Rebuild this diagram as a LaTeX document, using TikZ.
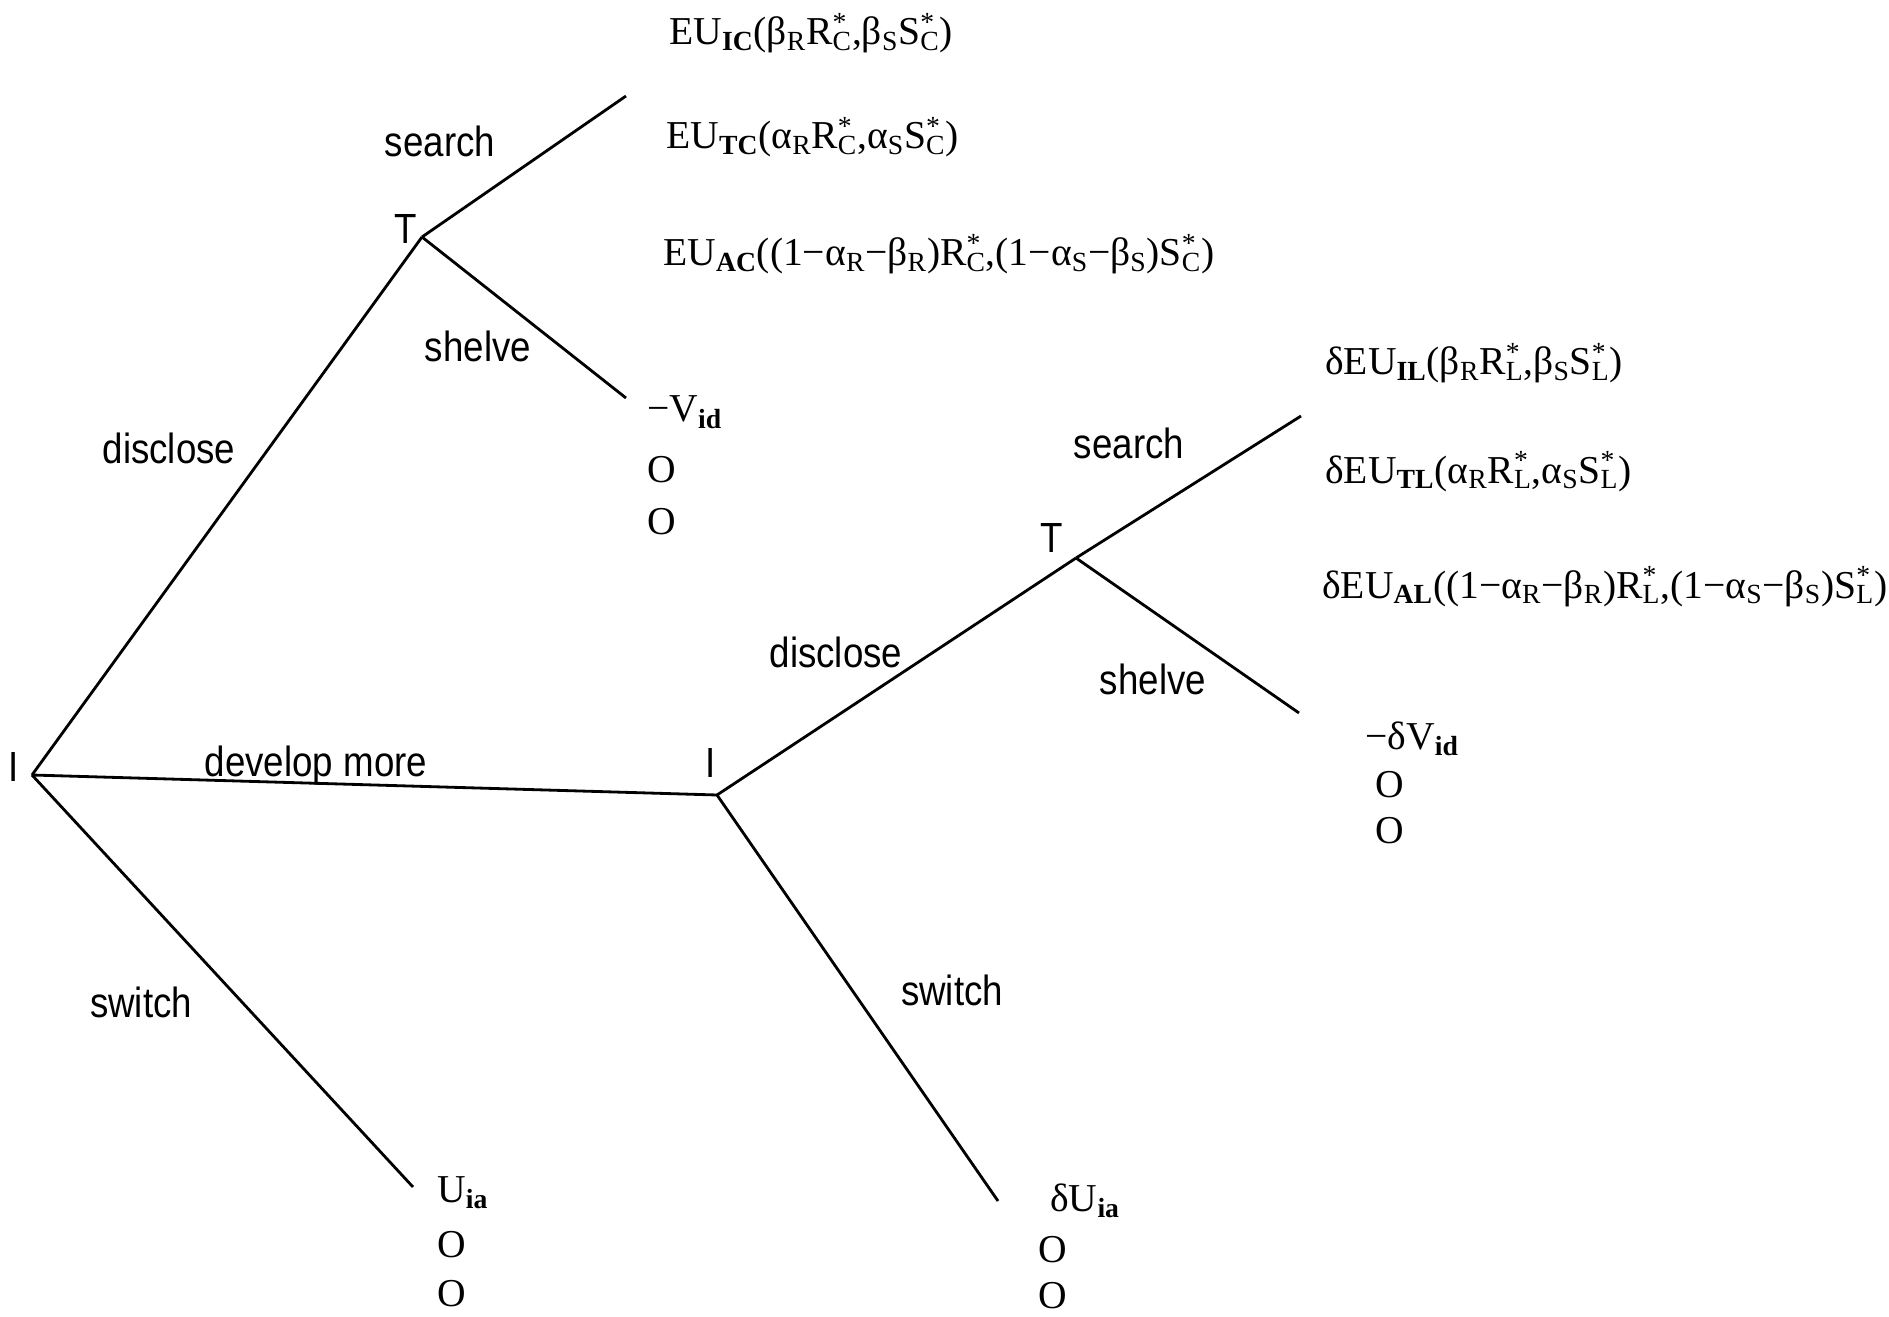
\documentclass[tikz,border=0pt]{standalone}
\usepackage{fontspec}
\setmainfont{Liberation Serif}
\newfontfamily\actfont[FakeStretch=0.87]{Liberation Sans}
\usetikzlibrary{positioning}

\newcommand{\ix}[1]{\textsubscript{\bfseries #1}}
\newcommand{\st}[1]{\rlap{\textsuperscript{*}}\textsubscript{#1}}

\tikzset{
  branch/.style={line width=1.6pt},
  act/.style={font=\actfont\fontsize{24}{28}\selectfont, inner sep=0pt},
  payoff/.style={font=\fontsize{22.5}{26}\selectfont, anchor=base west, inner sep=0pt}
}

\begin{document}
\begin{tikzpicture}[x=0.02cm, y=-0.02cm]
\useasboundingbox (0,0) rectangle (1889,1317);

\coordinate (I1) at (32,775);
\coordinate (T1) at (422,237);
\coordinate (S1) at (626,96);
\coordinate (H1) at (626,398);
\coordinate (W1) at (413,1187);

\coordinate (I2) at (717,795);
\coordinate (T2) at (1076,558);
\coordinate (S2) at (1301,416);
\coordinate (H2) at (1299,713);
\coordinate (W2) at (998,1201);

\draw[branch] (I1) -- (T1);
\draw[branch] (T1) -- (S1);
\draw[branch] (T1) -- (H1);
\draw[branch] (I1) -- (I2);
\draw[branch] (I1) -- (W1);
\draw[branch] (I2) -- (T2);
\draw[branch] (T2) -- (S2);
\draw[branch] (T2) -- (H2);
\draw[branch] (I2) -- (W2);

\node[act] (pI1) at (14,767) {I};
\node[act] (pT1) at (406,229) {T};
\node[act] (pI2) at (711,763) {I};
\node[act] (pT2) at (1052,538) {T};

\node[act] (aD1) at (169,448) {disclose};
\node[act] (aS1) at (440,141) {search};
\node[act] (aH1) at (478,346) {shelve};
\node[act] (aM1) at (316,766) {develop more};
\node[act] (aW1) at (141,1002) {switch};
\node[act] (aD2) at (836,652) {disclose};
\node[act] (aS2) at (1129,443) {search};
\node[act] (aH2) at (1153,679) {shelve};
\node[act] (aW2) at (952,990) {switch};

\node[payoff] (eIC) at (669,45) {EU\ix{IC}(β\textsubscript{R}R\st{C},β\textsubscript{S}S\st{C})};
\node[payoff] (eTC) at (666,149) {EU\ix{TC}(α\textsubscript{R}R\st{C},α\textsubscript{S}S\st{C})};
\node[payoff] (eAC) at (663,266) {EU\ix{AC}((1−α\textsubscript{R}−β\textsubscript{R})R\st{C},(1−α\textsubscript{S}−β\textsubscript{S})S\st{C})};
\node[payoff] (vD1) at (647,422) {−V\ix{id}};
\node[payoff] (vD1b) at (647,482) {O};
\node[payoff] (vD1c) at (647,534) {O};

\node[payoff] (eIL) at (1325,375) {δEU\ix{IL}(β\textsubscript{R}R\st{L},β\textsubscript{S}S\st{L})};
\node[payoff] (eTL) at (1325,483) {δEU\ix{TL}(α\textsubscript{R}R\st{L},α\textsubscript{S}S\st{L})};
\node[payoff] (eAL) at (1322,598) {δEU\ix{AL}((1−α\textsubscript{R}−β\textsubscript{R})R\st{L},(1−α\textsubscript{S}−β\textsubscript{S})S\st{L})};
\node[payoff] (vD2) at (1365,749) {−δV\ix{id}};
\node[payoff] (vD2b) at (1375,797) {O};
\node[payoff] (vD2c) at (1375,843) {O};

\node[payoff] (uW1) at (437,1202) {U\ix{ia}};
\node[payoff] (uW1b) at (437,1257) {O};
\node[payoff] (uW1c) at (437,1306) {O};
\node[payoff] (uW2) at (1050,1211) {δU\ix{ia}};
\node[payoff] (uW2b) at (1038,1262) {O};
\node[payoff] (uW2c) at (1038,1308) {O};
\end{tikzpicture}
\end{document}
